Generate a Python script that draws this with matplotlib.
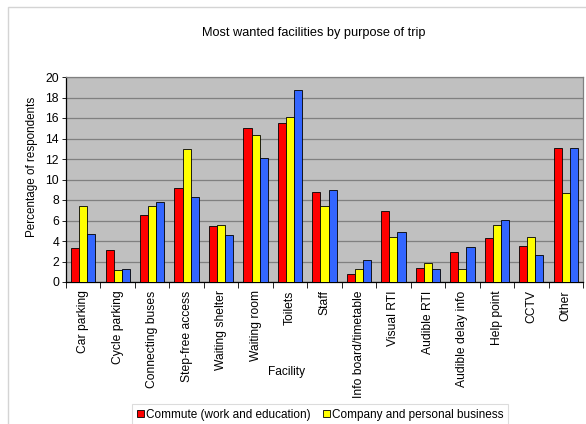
import matplotlib
matplotlib.use("Agg")
import matplotlib.pyplot as plt
from matplotlib.patches import Rectangle
import numpy as np

plt.rcParams['font.family'] = ['Liberation Sans', 'DejaVu Sans']

facilities = ["Car parking", "Cycle parking", "Connecting buses", "Step-free access",
              "Waiting shelter", "Waiting room", "Toilets", "Staff",
              "Info board/timetable", "Visual RTI", "Audible RTI",
              "Audible delay info", "Help point", "CCTV", "Other"]
commute = [3.3, 3.1, 6.5, 9.2, 5.45, 15.0, 15.5, 8.75, 0.8, 6.9, 1.4, 2.95, 4.3, 3.5, 13.1]
business = [7.4, 1.2, 7.4, 13.0, 5.55, 14.3, 16.1, 7.4, 1.25, 4.35, 1.85, 1.25, 5.55, 4.35, 8.65]
third = [4.7, 1.3, 7.8, 8.3, 4.6, 12.1, 18.75, 8.95, 2.1, 4.9, 1.3, 3.4, 6.05, 2.6, 13.05]
y_ticks = list(range(0, 21, 2))

W, H = 586, 424
fig = plt.figure(figsize=(W / 100, H / 100), dpi=100)
ax = fig.add_axes([66 / W, 1 - 282 / H, (583 - 66) / W, (282 - 77) / H])

# outer chart frame
fig.patches.append(Rectangle((8 / W, -0.1), 1.2, 1 - 7 / H + 0.1, transform=fig.transFigure,
                             fill=False, edgecolor="#d4d4d4", linewidth=1.0, zorder=0))

x = np.arange(len(facilities))
bw = 0.235
edge = dict(edgecolor="black", linewidth=0.6)
b1 = ax.bar(x - bw, commute, bw, color="#ff0000", **edge, zorder=3)
b2 = ax.bar(x, business, bw, color="#ffff00", **edge, zorder=3)
b3 = ax.bar(x + bw, third, bw, color="#3366ff", **edge, zorder=3)

ax.set_facecolor("#c0c0c0")
ax.set_xlim(-0.5, len(facilities) - 0.5)
ax.set_ylim(0, 20)
ax.set_yticks(y_ticks)
ax.yaxis.grid(True, color="#808080", linewidth=0.9, zorder=1)
ax.set_axisbelow(True)

ax.set_xticks(x)
ax.set_xticklabels(facilities, rotation=90, fontsize=8.7)
ax.tick_params(axis="x", length=0, pad=6)
ax.set_xticks(np.arange(-0.5, len(facilities), 1), minor=True)
ax.tick_params(axis="x", which="minor", length=4, width=0.6, color="black")
ax.tick_params(axis="y", labelsize=8.8, length=3, width=0.6, pad=2)

for s in ("left", "bottom"):
    ax.spines[s].set_color("black")
    ax.spines[s].set_linewidth(0.9)
for s in ("top", "right"):
    ax.spines[s].set_color("#808080")
    ax.spines[s].set_linewidth(0.9)

fig.text(314 / W, 1 - 33 / H, "Most wanted facilities by purpose of trip",
         ha="center", va="center", fontsize=9.2)
fig.text(32 / W, 1 - 167 / H, "Percentage of respondents", rotation=90,
         ha="center", va="center", fontsize=8.4)
fig.text(287 / W, 1 - 372 / H, "Facility", ha="center", va="center", fontsize=8.6)

leg = fig.legend([b1, b2], ["Commute (work and education)", "Company and personal business"],
                 loc="upper left", bbox_to_anchor=(132 / W, 1 - 404 / H), ncol=2,
                 fontsize=8.5, frameon=True, fancybox=False, edgecolor="#d4d4d4",
                 handlelength=0.6, handleheight=0.6, handletextpad=0.2,
                 columnspacing=1.0, borderpad=0.4, borderaxespad=0)
leg.get_frame().set_linewidth(0.8)

fig.savefig("out.png", dpi=100)
